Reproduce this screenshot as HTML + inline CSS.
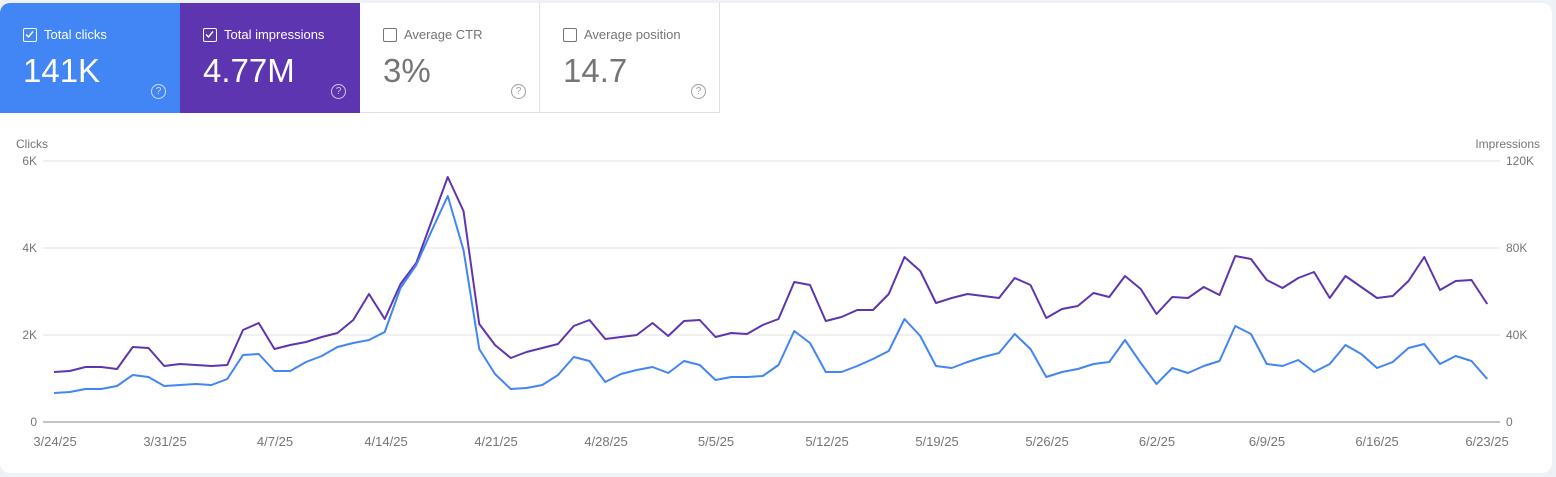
<!DOCTYPE html>
<html><head><meta charset="utf-8"><style>
*{margin:0;padding:0;box-sizing:border-box}
body{width:1556px;height:477px;background:#eef1f6;font-family:"Liberation Sans",Arial,sans-serif;position:relative;overflow:hidden}
.wrap{position:absolute;left:0;top:3px;width:1552px;height:470px;background:#fff;border-radius:10px;overflow:hidden}
.card{position:absolute;top:0;height:110px;width:180px}
.lbl{position:absolute;left:44px;top:24px;font-size:13px}
.cb{position:absolute;left:23px;top:25px;width:14px;height:14px;border:1.5px solid;border-radius:2px}
.val{position:absolute;left:23px;top:49px;font-size:33px}
.help{position:absolute;left:151px;top:81px;width:15px;height:15px;border:1.3px solid;border-radius:50%;font-size:10px;text-align:center;line-height:13px}
</style></head><body>
<div class="wrap">
<div class="card" style="left:0;background:#4285f4;color:#fff">
<div class="cb" style="border-color:#fff"><svg width="11" height="11" style="position:absolute;left:0;top:0"><path d="M2 5.5 L4.5 8 L9 2.5" stroke="#fff" stroke-width="1.4" fill="none"/></svg></div>
<div class="lbl">Total clicks</div><div class="val">141K</div><div class="help" style="border-color:#cfe0fc;color:#cfe0fc">?</div></div>
<div class="card" style="left:180px;background:#5e35b1;color:#fff">
<div class="cb" style="border-color:#fff"><svg width="11" height="11" style="position:absolute;left:0;top:0"><path d="M2 5.5 L4.5 8 L9 2.5" stroke="#fff" stroke-width="1.4" fill="none"/></svg></div>
<div class="lbl">Total impressions</div><div class="val">4.77M</div><div class="help" style="border-color:#d4c8ec;color:#d4c8ec">?</div></div>
<div class="card" style="left:360px;border-right:1px solid #e0e0e0;border-bottom:1px solid #e0e0e0;color:#757575">
<div class="cb" style="border-color:#757575"></div><div class="lbl">Average CTR</div><div class="val">3%</div><div class="help" style="border-color:#9e9e9e;color:#9e9e9e">?</div></div>
<div class="card" style="left:540px;border-right:1px solid #e0e0e0;border-bottom:1px solid #e0e0e0;color:#757575">
<div class="cb" style="border-color:#757575"></div><div class="lbl">Average position</div><div class="val">14.7</div><div class="help" style="border-color:#9e9e9e;color:#9e9e9e">?</div></div>
</div>
<svg width="1556" height="477" style="position:absolute;left:0;top:0" font-family="Liberation Sans,Arial,sans-serif" font-size="12" fill="#757575">
<text x="16" y="148">Clicks</text>
<text x="1540" y="148" text-anchor="end">Impressions</text>
<g stroke="#ececec" stroke-width="1.5"><line x1="43" y1="161" x2="1500" y2="161"/><line x1="43" y1="248" x2="1500" y2="248"/><line x1="43" y1="335" x2="1500" y2="335"/></g>
<line x1="43" y1="422" x2="1500" y2="422" stroke="#b0b0b0" stroke-width="1.5"/>
<g text-anchor="end"><text x="37" y="165">6K</text><text x="37" y="252">4K</text><text x="37" y="339">2K</text><text x="37" y="426">0</text></g>
<g><text x="1506" y="165">120K</text><text x="1506" y="252">80K</text><text x="1506" y="339">40K</text><text x="1506" y="426">0</text></g>
<g text-anchor="middle" font-size="13"><text x="55" y="446">3/24/25</text><text x="165" y="446">3/31/25</text><text x="275" y="446">4/7/25</text><text x="386" y="446">4/14/25</text><text x="496" y="446">4/21/25</text><text x="606" y="446">4/28/25</text><text x="716" y="446">5/5/25</text><text x="827" y="446">5/12/25</text><text x="937" y="446">5/19/25</text><text x="1047" y="446">5/26/25</text><text x="1157" y="446">6/2/25</text><text x="1267" y="446">6/9/25</text><text x="1377" y="446">6/16/25</text><text x="1487" y="446">6/23/25</text></g>
<polyline fill="none" stroke="#5e35b1" stroke-width="2" stroke-linejoin="round" points="54,372 69.75,371 85.5,367 101.25,367 117,369 132.75,347 148.5,348 164.25,366 180,364 195.75,365 211.5,366 227.25,365 243,330 258.75,323 274.5,349 290.25,345 306,342 321.75,337 337.5,333 353.25,320 369,294 384.75,319 400.5,284 416.25,263 432,220 447.75,177 463.5,211 479.25,324 495,345 510.75,358 526.5,352 542.25,348 558,344 573.75,326 589.5,320 605.25,339 621,337 636.75,335 652.5,323 668.25,336 684,321 699.75,320 715.5,337 731.25,333 747,334 762.75,325 778.5,319 794.25,282 810,285 825.75,321 841.5,317 857.25,310 873,310 888.75,294 904.5,257 920.25,271 936,303 951.75,298 967.5,294 983.25,296 999,298 1014.75,278 1030.5,285 1046.25,318 1062,309 1077.75,306 1093.5,293 1109.25,297 1125,276 1140.75,289 1156.5,314 1172.25,297 1188,298 1203.75,287 1219.5,295 1235.25,256 1251,259 1266.75,280 1282.5,288 1298.25,278 1314,272 1329.75,298 1345.5,276 1361.25,287 1377,298 1392.75,296 1408.5,281 1424.25,257 1440,290 1455.75,281 1471.5,280 1487.25,304"/>
<polyline fill="none" stroke="#4285f4" stroke-width="2" stroke-linejoin="round" points="54,393 69.75,392 85.5,389 101.25,389 117,386 132.75,375 148.5,377 164.25,386 180,385 195.75,384 211.5,385 227.25,379 243,355 258.75,354 274.5,371 290.25,371 306,362 321.75,356 337.5,347 353.25,343 369,340 384.75,332 400.5,288 416.25,265 432,230 447.75,196 463.5,250 479.25,349 495,374 510.75,389 526.5,388 542.25,385 558,375 573.75,357 589.5,361 605.25,382 621,374 636.75,370 652.5,367 668.25,373 684,361 699.75,365 715.5,380 731.25,377 747,377 762.75,376 778.5,365 794.25,331 810,343 825.75,372 841.5,372 857.25,366 873,359 888.75,351 904.5,319 920.25,336 936,366 951.75,368 967.5,362 983.25,357 999,353 1014.75,334 1030.5,349 1046.25,377 1062,372 1077.75,369 1093.5,364 1109.25,362 1125,340 1140.75,363 1156.5,384 1172.25,368 1188,373 1203.75,366 1219.5,361 1235.25,326 1251,334 1266.75,364 1282.5,366 1298.25,360 1314,372 1329.75,364 1345.5,345 1361.25,354 1377,368 1392.75,362 1408.5,348 1424.25,344 1440,364 1455.75,356 1471.5,361 1487.25,379"/>
</svg>
</body></html>
